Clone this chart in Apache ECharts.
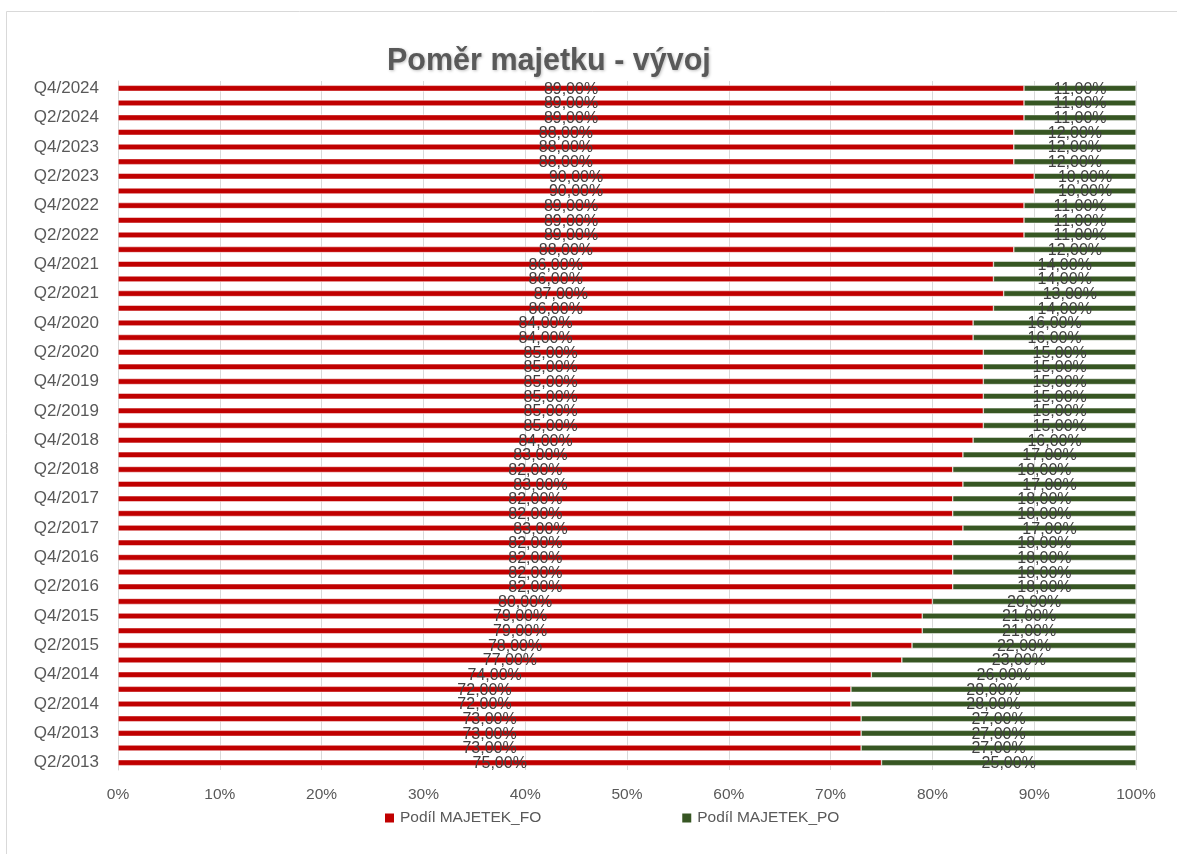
<!DOCTYPE html>
<html><head><meta charset="utf-8">
<script src="https://cdn.jsdelivr.net/npm/echarts@6/dist/echarts.min.js"></script>
<style>html,body{margin:0;padding:0;background:#fff}#c{width:1177px;height:854px}</style>
</head><body><div id="c"></div>
<script>
const categories = ['Q2/2013','Q3/2013','Q4/2013',
 'Q1/2014','Q2/2014','Q3/2014','Q4/2014',
 'Q1/2015','Q2/2015','Q3/2015','Q4/2015',
 'Q1/2016','Q2/2016','Q3/2016','Q4/2016',
 'Q1/2017','Q2/2017','Q3/2017','Q4/2017',
 'Q1/2018','Q2/2018','Q3/2018','Q4/2018',
 'Q1/2019','Q2/2019','Q3/2019','Q4/2019',
 'Q1/2020','Q2/2020','Q3/2020','Q4/2020',
 'Q1/2021','Q2/2021','Q3/2021','Q4/2021',
 'Q1/2022','Q2/2022','Q3/2022','Q4/2022',
 'Q1/2023','Q2/2023','Q3/2023','Q4/2023',
 'Q1/2024','Q2/2024','Q3/2024','Q4/2024'];
const podilFO = [75,73,73,
 73,72,72,74,
 77,78,79,79,
 80,82,82,82,
 82,83,82,82,
 83,82,83,84,
 85,85,85,85,
 85,85,84,84,
 86,87,86,86,
 88,89,89,89,
 90,90,88,88,
 88,89,89,89];
const podilPO = [25,27,27,
 27,28,28,26,
 23,22,21,21,
 20,18,18,18,
 18,17,18,18,
 17,18,17,16,
 15,15,15,15,
 15,15,16,16,
 14,13,14,14,
 12,11,11,11,
 10,10,12,12,
 12,11,11,11];
const xTicks = ['0%','10%','20%','30%','40%','50%','60%','70%','80%','90%','100%'];

const FONT = '"Liberation Sans", "DejaVu Sans", sans-serif';
const fmt = p => p.value.toFixed(2).replace('.', ',') + '%';
const chart = echarts.init(document.getElementById('c'));
chart.setOption({
  backgroundColor: '#fff',
  animation: false,
  graphic: [{type:'rect', shape:{x:6.5,y:11.5,width:1200,height:900}, style:{fill:'none',stroke:'#d9d9d9',lineWidth:1}, silent:true}],
  title: {text:'Poměr majetku - vývoj', left:382, top:41,
    textStyle:{fontFamily:FONT, fontSize:30.5, fontWeight:'bold', color:'#595959',
      textShadowColor:'rgba(0,0,0,0.25)', textShadowBlur:3, textShadowOffsetX:1, textShadowOffsetY:1}},
  legend: {top:810, left:383, padding:0, itemGap:139, itemWidth:11, itemHeight:11, icon:'rect',
    textStyle:{fontFamily:FONT, fontSize:15.5, color:'#595959'}},
  grid: {left:118, right:41, top:81, bottom:84, containLabel:false},
  xAxis: {type:'value', min:0, max:100, interval:10,
    axisLine:{show:false}, axisTick:{show:false},
    splitLine:{lineStyle:{color:'#d9d9d9', width:1}},
    axisLabel:{fontFamily:FONT, fontSize:15.5, color:'#595959', margin:17,
      formatter: v => xTicks[Math.round(v/10)]}},
  yAxis: {type:'category', data:categories,
    axisLine:{show:true, lineStyle:{color:'#d9d9d9'}}, axisTick:{show:false},
    axisLabel:{interval:1, fontFamily:FONT, fontSize:17, color:'#595959', margin:19}},
  series: [
    {name:'Podíl MAJETEK_FO', type:'bar', stack:'s', data:podilFO, barWidth:6,
      itemStyle:{color:'#C00000', borderColor:'#fff', borderWidth:0.5},
      label:{show:true, position:'inside', offset:[0,1], formatter:fmt, fontFamily:FONT, fontSize:16, color:'#404040'}},
    {name:'Podíl MAJETEK_PO', type:'bar', stack:'s', data:podilPO, barWidth:6,
      itemStyle:{color:'#375623', borderColor:'#fff', borderWidth:0.5},
      label:{show:true, position:'inside', offset:[0,1], formatter:fmt, fontFamily:FONT, fontSize:16, color:'#404040'}}
  ]
});
</script></body></html>
